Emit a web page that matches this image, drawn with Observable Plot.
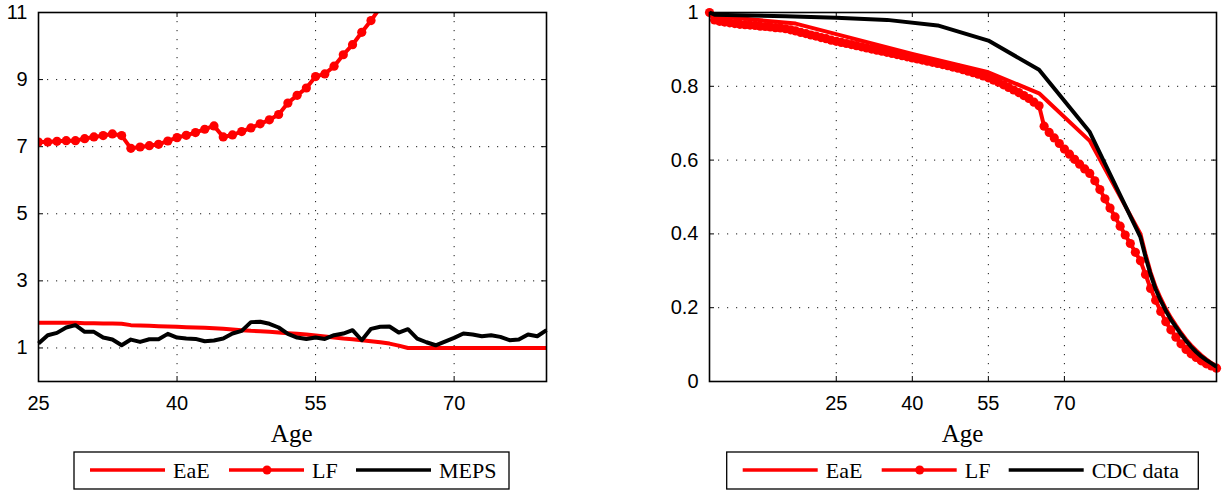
<!DOCTYPE html>
<html>
<head>
<meta charset="utf-8">
<script src="https://cdn.jsdelivr.net/npm/d3@7"></script>
<script src="https://cdn.jsdelivr.net/npm/@observablehq/plot@0.6"></script>
<style>
  html, body { margin: 0; padding: 0; background: #fff; }
  #root { position: relative; width: 1225px; height: 493px; overflow: hidden; }
  #left, #right, #overlay { position: absolute; top: 0; }
  #left { left: 0; }
  #right { left: 660px; }
  #overlay { left: 0; pointer-events: none; }
</style>
</head>
<body>
<div id="root">
  <div id="left"></div>
  <div id="right"></div>
  <svg id="overlay" width="1225" height="493"></svg>
</div>
<script>
// ---------- Left panel data (ratio by age) ----------
const leftAges = [25,26,27,28,29,30,31,32,33,34,35,36,37,38,39,40,41,42,43,44,45,46,47,48,49,50,51,52,53,54,55,56,57,58,59,60,61,62,63,64,65,66,67,68,69,70,71,72,73,74,75,76,77,78,79,80];
const eaeLeft = [1.75,1.75,1.75,1.75,1.75,1.74,1.74,1.73,1.73,1.72,1.68,1.67,1.66,1.65,1.64,1.63,1.62,1.61,1.60,1.59,1.57,1.55,1.53,1.51,1.50,1.48,1.46,1.44,1.42,1.40,1.37,1.34,1.31,1.28,1.26,1.23,1.20,1.17,1.13,1.07,1.00,1.00,1.00,1.00,1.00,1.00,1.00,1.00,1.00,1.00,1.00,1.00,1.00,1.00,1.00,1.00];
const mepsLeft = [1.13,1.38,1.45,1.61,1.68,1.48,1.48,1.31,1.25,1.08,1.25,1.18,1.26,1.26,1.42,1.31,1.28,1.27,1.20,1.22,1.28,1.43,1.51,1.77,1.78,1.72,1.61,1.42,1.31,1.27,1.31,1.27,1.38,1.43,1.53,1.23,1.57,1.63,1.64,1.46,1.56,1.28,1.17,1.08,1.19,1.30,1.43,1.40,1.35,1.38,1.33,1.23,1.25,1.40,1.35,1.53];
const lfLeftAges = [25,26,27,28,29,30,31,32,33,34,35,36,37,38,39,40,41,42,43,44,45,46,47,48,49,50,51,52,53,54,55,56,57,58,59,60,61,62];
const lfLeft = [7.14,7.14,7.16,7.18,7.18,7.24,7.29,7.33,7.38,7.33,6.95,6.99,7.03,7.07,7.17,7.27,7.34,7.42,7.52,7.62,7.29,7.35,7.45,7.56,7.68,7.80,7.96,8.30,8.53,8.75,9.09,9.17,9.40,9.74,10.04,10.41,10.76,11.15];
const leftXTicks = [25,40,55,70];
const leftYTicks = [1,3,5,7,9,11];
const leftLegend = ["EaE","LF","MEPS"];

// ---------- Right panel data (survival by age) ----------
const cdcAges = [0,1,15,25,35,45,55,65,75,85,86,87,88,89,90,91,92,93,94,95,96,97,98,99,100];
const cdcRight = [1.0,0.994,0.990,0.986,0.980,0.965,0.924,0.845,0.676,0.391,0.338,0.290,0.250,0.219,0.192,0.168,0.148,0.128,0.110,0.094,0.080,0.068,0.058,0.049,0.040];
const eaeAges = [0,17,40,55,65,75,85,86,87,88,89,90,91,92,93,94,95,96,97,98,99,100];
const eaeRight = [0.992,0.970,0.888,0.838,0.781,0.652,0.400,0.345,0.296,0.256,0.225,0.197,0.173,0.152,0.132,0.114,0.098,0.084,0.071,0.060,0.050,0.041];
const lfAges = [0,1,2,3,4,5,6,7,8,9,10,11,12,13,14,15,16,17,18,19,20,21,22,23,24,25,26,27,28,29,30,31,32,33,34,35,36,37,38,39,40,41,42,43,44,45,46,47,48,49,50,51,52,53,54,55,56,57,58,59,60,61,62,63,64,65,66,67,68,69,70,71,72,73,74,75,76,77,78,79,80,81,82,83,84,85,86,87,88,89,90,91,92,93,94,95,96,97,98,99,100];
const lfRight = [1.000,0.980,0.976,0.974,0.972,0.970,0.968,0.967,0.966,0.965,0.963,0.962,0.961,0.959,0.958,0.956,0.953,0.950,0.946,0.943,0.939,0.936,0.932,0.929,0.925,0.922,0.919,0.916,0.913,0.910,0.907,0.904,0.901,0.898,0.895,0.892,0.889,0.886,0.883,0.880,0.877,0.874,0.871,0.868,0.865,0.862,0.859,0.856,0.852,0.849,0.845,0.841,0.837,0.833,0.828,0.823,0.817,0.811,0.804,0.797,0.790,0.783,0.775,0.767,0.757,0.747,0.692,0.675,0.660,0.645,0.630,0.616,0.602,0.589,0.576,0.564,0.544,0.520,0.495,0.470,0.446,0.421,0.397,0.374,0.350,0.327,0.290,0.252,0.220,0.190,0.162,0.140,0.120,0.102,0.087,0.075,0.065,0.056,0.048,0.042,0.036];
const rightXTicks = [25,40,55,70];
const rightYTicks = [0,0.2,0.4,0.6,0.8,1];
const rightLegend = ["EaE","LF","CDC data"];

const RED = "#ff0000", BLACK = "#000000";
const rows = (xs, ys) => xs.map((x, i) => ({x, y: ys[i]}));

function panel({width, height, ml, mr, mt, mb, xDomain, yDomain, xTicks, yTicks, gridXv, gridYv, marks}) {
  const pw = width - ml - mr, ph = height - mt - mb, tl = 5;
  const dotted = {stroke: "#000", strokeOpacity: 0.9, strokeWidth: 1, strokeDasharray: "1.2,7.8"};
  return Plot.plot({
    width, height, marginLeft: ml, marginRight: mr, marginTop: mt, marginBottom: mb,
    x: {domain: xDomain}, y: {domain: yDomain},
    style: {fontFamily: "'Liberation Sans', Arial, sans-serif", fontSize: "20px", color: "#000", background: "transparent", overflow: "visible"},
    marks: [
      Plot.gridX(gridXv, dotted),
      Plot.gridY(gridYv, dotted),
      Plot.tickX(xTicks, {x: d => d, stroke: "#000", strokeWidth: 1, insetTop: ph - tl}),
      Plot.tickX(xTicks, {x: d => d, stroke: "#000", strokeWidth: 1, insetBottom: ph - tl}),
      Plot.tickY(yTicks, {y: d => d, stroke: "#000", strokeWidth: 1, insetRight: pw - tl}),
      Plot.tickY(yTicks, {y: d => d, stroke: "#000", strokeWidth: 1, insetLeft: pw - tl}),
      ...marks,
      Plot.frame({stroke: "#000", strokeWidth: 1.6}),
      Plot.axisX({ticks: xTicks, tickSize: 0, tickPadding: 14, label: null, tickFormat: d => String(d)}),
      Plot.axisY({ticks: yTicks, tickSize: 0, tickPadding: 11, label: null, tickFormat: d => String(d)})
    ]
  });
}

const lineStyle = {x: "x", y: "y", strokeWidth: 4, strokeLinejoin: "round", strokeLinecap: "butt"};

const leftChart = panel({
  width: 560, height: 420, ml: 38, mr: 14, mt: 12, mb: 39,
  xDomain: [25, 80], yDomain: [0, 11],
  xTicks: leftXTicks, yTicks: leftYTicks,
  gridXv: leftXTicks.slice(1), gridYv: leftYTicks.slice(0, -1),
  marks: [
    Plot.line(rows(leftAges, eaeLeft), {...lineStyle, stroke: RED}),
    Plot.line(rows(lfLeftAges, lfLeft), {...lineStyle, stroke: RED, clip: true}),
    Plot.dot(rows(lfLeftAges, lfLeft), {x: "x", y: "y", r: 4.6, fill: RED, stroke: "none", clip: true}),
    Plot.line(rows(leftAges, mepsLeft), {...lineStyle, stroke: BLACK})
  ]
});
document.getElementById("left").appendChild(leftChart);

const rightChart = panel({
  width: 565, height: 420, ml: 49, mr: 9, mt: 12, mb: 39,
  xDomain: [0, 100], yDomain: [0, 1],
  xTicks: rightXTicks, yTicks: rightYTicks,
  gridXv: rightXTicks, gridYv: rightYTicks.slice(1, -1),
  marks: [
    Plot.line(rows(eaeAges, eaeRight), {...lineStyle, stroke: RED}),
    Plot.line(rows(lfAges, lfRight), {...lineStyle, stroke: RED}),
    Plot.dot(rows(lfAges, lfRight), {x: "x", y: "y", r: 4.6, fill: RED, stroke: "none"}),
    Plot.line(rows(cdcAges, cdcRight), {...lineStyle, stroke: BLACK})
  ]
});
document.getElementById("right").appendChild(rightChart);

// ---------- Overlay: axis titles and legends ----------
const svg = d3.select("#overlay");
const serif = "'Liberation Serif', 'Times New Roman', serif";

[[291.7, "Age"], [962.5, "Age"]].forEach(([cx, t]) => {
  svg.append("text").attr("x", cx).attr("y", 442).attr("text-anchor", "middle")
    .attr("font-family", serif).attr("font-size", 25).attr("fill", "#000").text(t);
});

function legend(x0, y0, w, h, labels, colors, markers) {
  const g = svg.append("g").attr("transform", `translate(${x0},${y0})`);
  g.append("rect").attr("x", 0).attr("y", 0).attr("width", w).attr("height", h)
    .attr("fill", "#fff").attr("stroke", "#000").attr("stroke-width", 1.3);
  const starts = [16, 155, 282];
  labels.forEach((lab, i) => {
    const s = starts[i];
    g.append("line").attr("x1", s).attr("x2", s + 75).attr("y1", 18).attr("y2", 18)
      .attr("stroke", colors[i]).attr("stroke-width", 3.5);
    if (markers[i]) g.append("circle").attr("cx", s + 38).attr("cy", 18).attr("r", 4.5).attr("fill", colors[i]);
    g.append("text").attr("x", s + 83).attr("y", 25.5).attr("font-family", serif)
      .attr("font-size", 22).attr("fill", "#000").text(lab);
  });
}
legend(74, 452, 435, 37, leftLegend, [RED, RED, BLACK], [false, true, false]);
legend(726.7, 452, 471.6, 37, rightLegend, [RED, RED, BLACK], [false, true, false]);
</script>
</body>
</html>
